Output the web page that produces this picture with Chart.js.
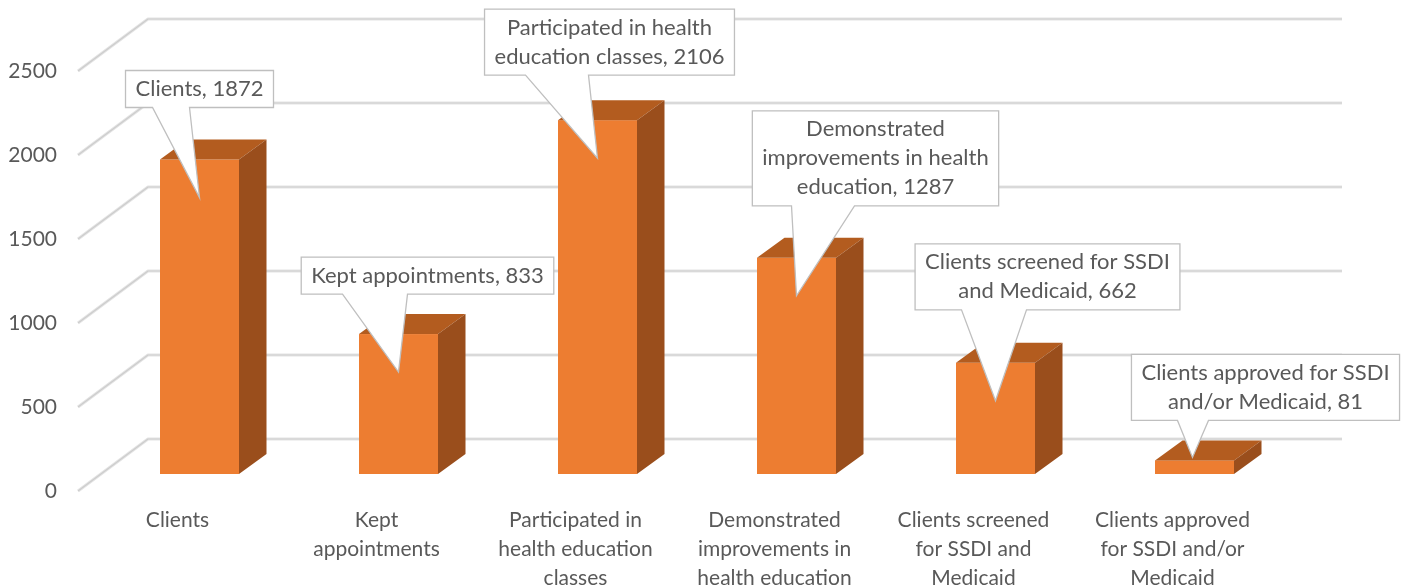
<!DOCTYPE html>
<html>
<head>
<meta charset="utf-8">
<script src="https://cdn.jsdelivr.net/npm/chart.js@4.4.1/dist/chart.umd.min.js"></script>
<style>
  html, body { margin: 0; padding: 0; background: #fff; }
</style>
</head>
<body>
<canvas id="chart" width="1405" height="588"></canvas>
<script>
// data
const categories = [
    "Clients",
    ["Kept", "appointments"],
    ["Participated in", "health education", "classes"],
    ["Demonstrated", "improvements in", "health education"],
    ["Clients screened", "for SSDI and", "Medicaid"],
    ["Clients approved", "for SSDI and/or", "Medicaid"]
]
const values = [1872, 833, 2106, 1287, 662, 81]
const yTicks = [0, 500, 1000, 1500, 2000, 2500]
// data label names, wrapped as in the callouts (value is appended)
const calloutNames = [
    ["Clients"],
    ["Kept appointments"],
    ["Participated in health", "education classes"],
    ["Demonstrated", "improvements in health", "education"],
    ["Clients screened for SSDI", "and Medicaid"],
    ["Clients approved for SSDI", "and/or Medicaid"]
]

// layout: callout box centre x / top offset from the pointer tip, pointer base (from box centre)
const calloutPos = [
    [0, -127, -47, -10],
    [29, -115, -85, -20],
    [12, -149, -84, -21],
    [79, -185, -84, -21],
    [52, -157, -86, -21],
    [73, -103, -88, -57]
]

const SHIFT = { x: 22, y: -17 }    // bars sit a bit inside the floor
const DEPTH = { x: 27.5, y: -20 }  // bar depth
const WALL = { x: 70, y: -52 }     // back wall offset
const TEXT = "#595959"

function poly(ctx, pts, color) {
    ctx.beginPath()
    pts.forEach((p, i) => i ? ctx.lineTo(p[0], p[1]) : ctx.moveTo(p[0], p[1]))
    ctx.closePath()
    ctx.fillStyle = color
    ctx.fill()
}

const threeD = {
    id: "threeD",
    beforeDatasetsDraw(chart) {
        const { ctx, chartArea, scales: { y } } = chart
        ctx.save()
        yTicks.forEach(v => {
            const py = y.getPixelForValue(v)
            ctx.beginPath()
            ctx.moveTo(chartArea.left, py)
            ctx.lineTo(chartArea.left + WALL.x, py + WALL.y)
            ctx.lineTo(chartArea.right + WALL.x, py + WALL.y)
            ctx.lineJoin = "round"
            ctx.strokeStyle = "#e4e4e4"; ctx.lineWidth = 3.2; ctx.stroke()
            ctx.strokeStyle = "#cdcdcd"; ctx.lineWidth = 1.2; ctx.stroke()
        })
        ctx.restore()
    },
    afterDatasetsDraw(chart) {
        const { ctx } = chart
        const bars = chart.getDatasetMeta(0).data
        ctx.save()
        bars.forEach(el => {
            const left = el.x + SHIFT.x - el.width / 2, right = left + el.width
            const top = el.y + SHIFT.y, base = el.base + SHIFT.y
            ctx.fillStyle = "#ED7D31"
            ctx.fillRect(left, top, el.width, base - top)
            poly(ctx, [[left, top], [right, top], [right + DEPTH.x, top + DEPTH.y], [left + DEPTH.x, top + DEPTH.y]], "#B35C1F")
            poly(ctx, [[right, top], [right + DEPTH.x, top + DEPTH.y], [right + DEPTH.x, base + DEPTH.y], [right, base]], "#9A4E1C")
        })

        // callouts
        ctx.font = "22px Lato"
        ctx.textAlign = "center"
        ctx.textBaseline = "middle"
        bars.forEach((el, i) => {
            const lines = calloutNames[i].slice()
            lines[lines.length - 1] += ", " + values[i]
            const top = el.y + SHIFT.y, base = el.base + SHIFT.y
            const small = base - top < 50
            const tipX = el.x + SHIFT.x - (small ? 2 : 0)
            const tipY = small ? top - 3 : top + 38
            const [cxOff, topOff, bl, br] = calloutPos[i]
            const w = Math.max(...lines.map(l => ctx.measureText(l).width)) + 20
            const h = lines.length * 29 + 8
            const cx = tipX + cxOff, bt = tipY + topOff, bb = bt + h
            ctx.beginPath()
            ctx.moveTo(cx - w / 2, bt)
            ctx.lineTo(cx + w / 2, bt)
            ctx.lineTo(cx + w / 2, bb)
            ctx.lineTo(cx + br, bb)
            ctx.lineTo(tipX, tipY)
            ctx.lineTo(cx + bl, bb)
            ctx.lineTo(cx - w / 2, bb)
            ctx.closePath()
            ctx.fillStyle = "#ffffff"
            ctx.fill()
            ctx.strokeStyle = "#bfbfbf"
            ctx.lineWidth = 1.3
            ctx.stroke()
            ctx.fillStyle = TEXT
            lines.forEach((l, k) => ctx.fillText(l, cx, bt + 4 + 14.5 + k * 29))
        })
        ctx.restore()
    }
}

new Chart(document.getElementById("chart").getContext("2d"), {
    type: "bar",
    data: {
        labels: categories,
        datasets: [{
            data: values,
            backgroundColor: "rgba(0,0,0,0)",
            categoryPercentage: 1,
            barPercentage: 0.397
        }]
    },
    options: {
        responsive: false,
        animation: false,
        layout: { padding: { top: 71, right: 133, bottom: 0, left: 0 } },
        plugins: { legend: { display: false }, tooltip: { enabled: false } },
        scales: {
            x: {
                grid: { display: false, drawTicks: false },
                border: { display: false },
                ticks: {
                    color: TEXT, font: { family: "Lato", size: 21, lineHeight: 1.38 },
                    padding: 15, maxRotation: 0, minRotation: 0, autoSkip: false
                },
                afterFit: s => { s.height = 97 }
            },
            y: {
                min: 0, max: 2500,
                grid: { display: false, drawTicks: false },
                border: { display: false },
                ticks: {
                    stepSize: 500, color: TEXT, font: { family: "Lato", size: 21 }, padding: 21,
                    callback: v => String(v)
                },
                afterFit: s => { s.width = 78 }
            }
        }
    },
    plugins: [threeD]
})
</script>
</body>
</html>
